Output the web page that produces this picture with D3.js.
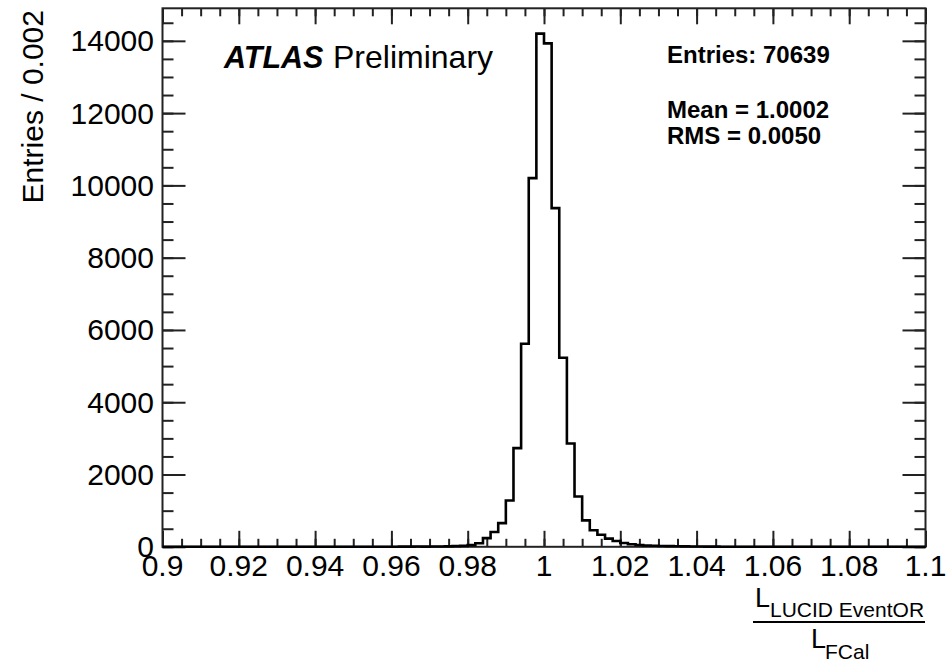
<!DOCTYPE html>
<html><head><meta charset="utf-8">
<script src="https://cdn.jsdelivr.net/npm/d3@7"></script>
<style>
body{margin:0;background:#fff}
svg{display:block}
text{font-family:"Liberation Sans",Arial,Helvetica,sans-serif;fill:#000}
</style>
</head><body>
<svg id="chart" width="949" height="661"></svg>
<script>
// ---- data ----
const binStart = 0.9;
const binWidth = 0.002;
const counts = [
  0,0,0,0,0,0,0,0,0,0,
  0,0,0,0,0,0,0,0,0,0,
  0,0,0,0,0,0,1,0,1,2,
  3,4,5,8,6,8,10,12,18,25,
  45,100,240,410,655,1280,2730,5620,10200,14200,
  13930,9370,5230,2860,1390,730,460,335,225,160,
  105,70,50,38,30,22,18,14,11,9,
  7,5,4,3,2,2,1,1,1,0,
  0,0,0,0,0,0,0,0,0,0,
  0,0,0,0,0,0,0,0,0,0
];
const xTicks = [0.9,0.92,0.94,0.96,0.98,1.0,1.02,1.04,1.06,1.08,1.1];
const xTickLabels = ["0.9","0.92","0.94","0.96","0.98","1","1.02","1.04","1.06","1.08","1.1"];
const yTicks = [0,2000,4000,6000,8000,10000,12000,14000];
const yTickLabels = ["0","2000","4000","6000","8000","10000","12000","14000"];
const statsLines = ["Entries: 70639", "Mean = 1.0002", "RMS = 0.0050"];
const xDomain = [0.9, 1.1];
const yDomain = [0, 14900];

// ---- layout ----
const L = 162.5, R = 925.5, T = 8.3, B = 546.8;
const svg = d3.select("#chart");
const x = d3.scaleLinear().domain(xDomain).range([L, R]);
const y = d3.scaleLinear().domain(yDomain).range([B, T]);
const axisColor = "#222";

const xMinor = d3.range(0, 41).map(i => +(xDomain[0] + i * 0.005).toFixed(4));
const yMinor = d3.range(0, 30).map(i => i * 500).filter(v => v <= yDomain[1]);

function styleAxis(g) {
  g.select(".domain").remove();
  g.selectAll(".tick line").attr("stroke", axisColor).attr("stroke-width", 2);
  g.selectAll(".tick text").remove();
}

// minor ticks
svg.append("g").attr("transform", `translate(0,${B})`)
  .call(d3.axisTop(x).tickValues(xMinor).tickSize(8)).call(styleAxis);
svg.append("g").attr("transform", `translate(0,${T})`)
  .call(d3.axisBottom(x).tickValues(xMinor).tickSize(8)).call(styleAxis);
svg.append("g").attr("transform", `translate(${L},0)`)
  .call(d3.axisRight(y).tickValues(yMinor).tickSize(11)).call(styleAxis);
svg.append("g").attr("transform", `translate(${R},0)`)
  .call(d3.axisLeft(y).tickValues(yMinor).tickSize(11)).call(styleAxis);
// major ticks
svg.append("g").attr("transform", `translate(0,${B})`)
  .call(d3.axisTop(x).tickValues(xTicks).tickSize(16)).call(styleAxis);
svg.append("g").attr("transform", `translate(0,${T})`)
  .call(d3.axisBottom(x).tickValues(xTicks).tickSize(16)).call(styleAxis);
svg.append("g").attr("transform", `translate(${L},0)`)
  .call(d3.axisRight(y).tickValues(yTicks).tickSize(23)).call(styleAxis);
svg.append("g").attr("transform", `translate(${R},0)`)
  .call(d3.axisLeft(y).tickValues(yTicks).tickSize(23)).call(styleAxis);

// frame
svg.append("rect").attr("x", L).attr("y", T).attr("width", R - L).attr("height", B - T)
  .attr("fill", "none").attr("stroke", axisColor).attr("stroke-width", 2);

// histogram
const pts = [];
counts.forEach((c, i) => {
  const x0 = binStart + i * binWidth, x1 = x0 + binWidth;
  pts.push([x0, c], [x1, c]);
});
svg.append("path")
  .datum(pts)
  .attr("d", d3.line().x(d => x(d[0])).y(d => y(d[1])))
  .attr("fill", "none").attr("stroke", "#000").attr("stroke-width", 2.6)
  .attr("stroke-linejoin", "miter");

// tick labels
svg.append("g").selectAll("text").data(xTicks).join("text")
  .attr("x", d => x(d)).attr("y", 576)
  .attr("text-anchor", "middle").attr("font-size", 30)
  .text((d, i) => xTickLabels[i]);
svg.append("g").selectAll("text").data(yTicks).join("text")
  .attr("x", 154).attr("y", d => y(d) + 10.5)
  .attr("text-anchor", "end").attr("font-size", 30)
  .text((d, i) => yTickLabels[i]);

// y-axis title
svg.append("text")
  .attr("transform", "translate(43,10) rotate(-90)")
  .attr("text-anchor", "end").attr("font-size", 30)
  .text("Entries / 0.002");

// x-axis title (fraction)
svg.append("text").attr("x", 755).attr("y", 607).attr("font-size", 27).text("L");
svg.append("text").attr("x", 770).attr("y", 617).attr("font-size", 21).text("LUCID EventOR");
svg.append("line").attr("x1", 753).attr("x2", 925).attr("y1", 622).attr("y2", 622)
  .attr("stroke", "#000").attr("stroke-width", 2);
svg.append("text").attr("x", 811).attr("y", 648).attr("font-size", 27).text("L");
svg.append("text").attr("x", 825).attr("y", 658.5).attr("font-size", 21).text("FCal");

// ATLAS Preliminary
const atl = svg.append("text").attr("x", 224).attr("y", 67.5);
atl.append("tspan").attr("font-size", 30.5).attr("font-weight", "bold").attr("font-style", "italic").text("ATLAS");
atl.append("tspan").attr("x", 333).attr("font-size", 32).text("Preliminary");

// stats box text
const statsY = [62.5, 117.5, 143.5];
svg.append("g").selectAll("text").data(statsLines).join("text")
  .attr("x", 667).attr("y", (d, i) => statsY[i])
  .attr("font-size", 24).attr("font-weight", "bold")
  .text(d => d);
</script>
</body></html>
